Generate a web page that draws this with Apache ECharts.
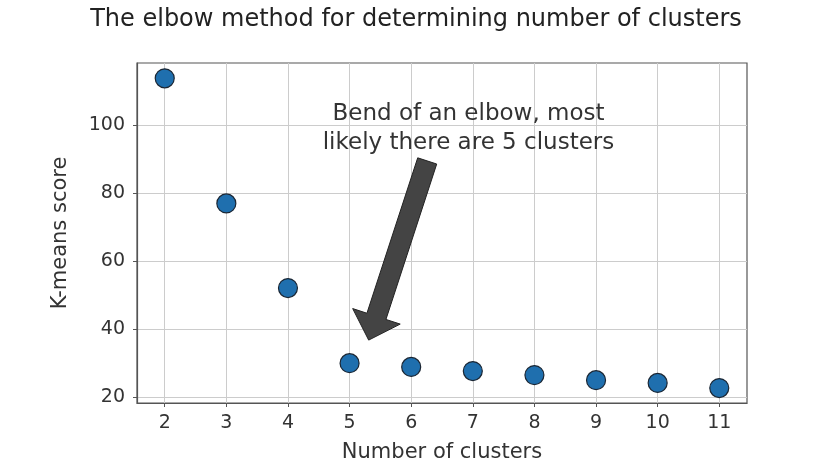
<!DOCTYPE html>
<html lang="en">
<head>
    <meta charset="UTF-8">
    <title>Elbow method</title>
    <script src="https://cdn.jsdelivr.net/npm/echarts@6/dist/echarts.min.js"></script>
    <style>
        html, body { margin: 0; padding: 0; background: #fff; }
        #chart { width: 832px; height: 476px; }
    </style>
</head>
<body>
<div id="chart"></div>
<script type="text/javascript">
// number of clusters and K-means score
var clusters = [2, 3, 4, 5, 6, 7, 8, 9, 10, 11];
var scores = [113.9, 77.1, 52.2, 30.1, 29.0, 27.8, 26.6, 25.1, 24.3, 22.8];
var yTicks = [20, 40, 60, 80, 100];
var noteLines = ['Bend of an elbow, most', 'likely there are 5 clusters'];
// arrow from tail to tip, in data units
var arrowTail = [6.26, 89.6];
var arrowTip = [5.31, 36.9];

var points = [];
for (var i = 0; i < clusters.length; i++) {
    points.push([clusters[i], scores[i]]);
}

var font = 'DejaVu Sans';
var myChart = echarts.init(document.getElementById('chart'));

var option = {
    backgroundColor: '#fff',
    animation: false,
    title: {
        text: 'The elbow method for determining number of clusters',
        left: 'center',
        top: 3,
        textStyle: { fontFamily: font, fontSize: 24, fontWeight: 'normal', color: '#222' }
    },
    grid: {
        left: 137, top: 63, right: 85, bottom: 73,
        show: true, borderColor: '#555', borderWidth: 1.2
    },
    xAxis: {
        type: 'value',
        min: 1.55, max: 11.45,
        name: 'Number of clusters',
        nameLocation: 'middle',
        nameGap: 39,
        nameTextStyle: { fontFamily: font, fontSize: 21, color: '#333' },
        axisLine: { show: true, lineStyle: { color: '#555', width: 1.2 } },
        axisTick: { show: true, length: 4, customValues: clusters, lineStyle: { color: '#555' } },
        axisLabel: { customValues: clusters, fontFamily: font, fontSize: 19, color: '#333', margin: 11 },
        splitLine: { show: true, lineStyle: { color: '#cccccc', width: 1 } }
    },
    yAxis: {
        type: 'value',
        min: 18.4, max: 118.4,
        name: 'K-means score',
        nameLocation: 'middle',
        nameGap: 66,
        nameTextStyle: { fontFamily: font, fontSize: 21, color: '#333' },
        axisLine: { show: true, lineStyle: { color: '#555', width: 1.2 } },
        axisTick: { show: true, length: 4, customValues: yTicks, lineStyle: { color: '#555' } },
        axisLabel: { customValues: yTicks, fontFamily: font, fontSize: 19, color: '#333', margin: 12 },
        splitLine: { show: true, lineStyle: { color: '#cccccc', width: 1 } }
    },
    series: [{
        type: 'scatter',
        data: points,
        symbolSize: 19,
        itemStyle: { color: '#1f6fae', opacity: 1, borderColor: '#1b2633', borderWidth: 1.2 },
        z: 5
    }]
};
myChart.setOption(option);

// annotation text and arrow placed from data coordinates
function drawNote() {
    var tail = myChart.convertToPixel({ gridIndex: 0 }, arrowTail);
    var tip = myChart.convertToPixel({ gridIndex: 0 }, arrowTip);
    var dx = tip[0] - tail[0], dy = tip[1] - tail[1];
    var len = Math.sqrt(dx * dx + dy * dy);
    var ux = dx / len, uy = dy / len;
    var nx = -uy, ny = ux;
    var shaft = 10, head = 25, headLen = 25;
    var bx = tip[0] - ux * headLen, by = tip[1] - uy * headLen;
    var pts = [
        [tail[0] + nx * shaft, tail[1] + ny * shaft],
        [bx + nx * shaft, by + ny * shaft],
        [bx + nx * head, by + ny * head],
        [tip[0], tip[1]],
        [bx - nx * head, by - ny * head],
        [bx - nx * shaft, by - ny * shaft],
        [tail[0] - nx * shaft, tail[1] - ny * shaft]
    ];
    var textPos = myChart.convertToPixel({ gridIndex: 0 }, [6.93, 99.0]);
    myChart.setOption({
        graphic: [
            {
                type: 'polygon',
                shape: { points: pts },
                style: { fill: '#444', stroke: '#222', lineWidth: 1 },
                z: 10
            },
            {
                type: 'text',
                x: textPos[0],
                y: textPos[1],
                style: {
                    text: noteLines.join('\n'),
                    fontFamily: font,
                    fontSize: 23,
                    lineHeight: 29,
                    fill: '#333',
                    align: 'center',
                    verticalAlign: 'middle'
                },
                z: 10
            }
        ]
    });
}
drawNote();
</script>
</body>
</html>
